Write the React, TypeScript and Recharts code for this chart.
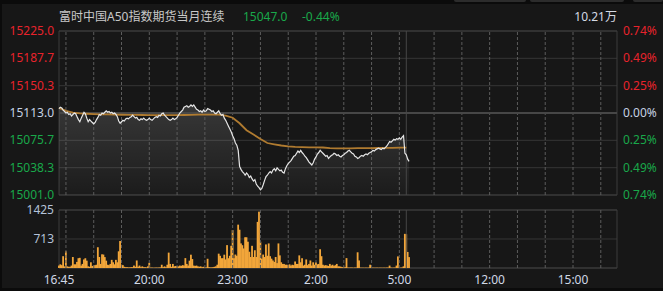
import React from "react";
import {
  ComposedChart,
  Area,
  Line,
  Bar,
  XAxis,
  YAxis,
  CartesianGrid,
  ReferenceLine,
  ReferenceArea,
} from "recharts";

// one point every 3 minutes from 16:45 (minute 0)
const STEP = 3;
const PREV_CLOSE = 15113.0;

const prices = [
  15119, 15121, 15120, 15117, 15115, 15113, 15114, 15111, 15112, 15109,
  15111, 15113, 15112, 15108, 15104, 15101, 15106, 15110, 15114, 15112,
  15106, 15101, 15104, 15102, 15100, 15098, 15100, 15104, 15107, 15111,
  15110, 15113, 15112, 15114, 15116, 15114, 15115, 15113, 15114, 15112,
  15113, 15111, 15108, 15102, 15099, 15101, 15103, 15102, 15105, 15106,
  15105, 15107, 15108, 15110, 15108, 15106, 15107, 15104, 15103, 15105,
  15104, 15106, 15104, 15103, 15104, 15106, 15104, 15103, 15105, 15107,
  15108, 15107, 15110, 15109, 15112, 15113, 15110, 15108, 15106, 15104,
  15103, 15104, 15106, 15104, 15105, 15107, 15110, 15113, 15115, 15117,
  15121, 15122, 15123, 15121, 15122, 15124, 15122, 15124, 15121, 15118,
  15117, 15115, 15116, 15114, 15117, 15115, 15116, 15119, 15118, 15117,
  15115, 15116, 15113, 15112, 15114, 15116, 15112, 15110, 15111, 15106,
  15103, 15099, 15095, 15091, 15087, 15082, 15078, 15072, 15069, 15062,
  15040, 15036, 15033, 15031, 15028, 15031, 15029, 15025, 15027, 15023,
  15020, 15022, 15016, 15013, 15011, 15008, 15010, 15015, 15021, 15026,
  15028, 15031, 15033, 15031, 15035, 15037, 15034, 15038, 15036, 15034,
  15035, 15032, 15031, 15037, 15041, 15044, 15046, 15048, 15051, 15054,
  15055, 15058, 15061, 15059, 15062, 15059, 15057, 15054, 15052, 15049,
  15046, 15044, 15042, 15045, 15050, 15053, 15057, 15059, 15062, 15060,
  15058, 15056, 15054, 15055, 15051, 15053, 15055, 15056, 15058, 15057,
  15055, 15056, 15054, 15053, 15055, 15056, 15058, 15059, 15061, 15062,
  15060, 15058, 15057, 15054, 15053, 15051, 15052, 15054, 15055, 15054,
  15056, 15057, 15056, 15058, 15059, 15060, 15062, 15061, 15063, 15064,
  15065, 15064, 15063, 15065, 15064, 15066, 15068, 15071, 15074, 15073,
  15075, 15077, 15076, 15078, 15077, 15079, 15077, 15080, 15082, 15058,
  15056, 15050, 15047,
];

const volumes = [
  60, 90, 70, 290, 40, 410, 40, 30, 30, 60,
  270, 90, 90, 150, 240, 250, 60, 100, 210, 240,
  180, 40, 30, 140, 50, 60, 70, 80, 510, 270,
  100, 336, 330, 268, 180, 80, 70, 100, 200, 140,
  90, 200, 140, 410, 663, 80, 70, 30, 20, 20,
  15, 15, 20, 20, 60, 30, 185, 30, 60, 20,
  40, 20, 20, 15, 40, 126, 10, 10, 8, 8,
  10, 10, 10, 15, 80, 20, 40, 20, 80, 378,
  100, 30, 100, 40, 50, 40, 40, 60, 50, 70,
  60, 243, 100, 60, 180, 327, 220, 60, 50, 60,
  40, 30, 40, 20, 30, 15, 15, 227, 20, 15,
  15, 20, 30, 40, 80, 352, 300, 240, 240, 327,
  210, 562, 240, 300, 545, 931, 240, 330, 300, 1065,
  940, 604, 560, 480, 755, 755, 646, 400, 270, 545,
  270, 436, 270, 1133, 1384, 646, 230, 330, 270, 579,
  300, 604, 290, 230, 185, 150, 270, 120, 604, 310,
  140, 100, 100, 80, 80, 70, 90, 60, 80, 70,
  160, 100, 100, 310, 140, 240, 60, 80, 210, 70,
  100, 185, 60, 140, 80, 140, 90, 100, 461, 290,
  80, 60, 70, 60, 50, 100, 60, 80, 50, 70,
  100, 40, 40, 30, 20, 30, 20, 243, 10, 10,
  12, 10, 8, 10, 10, 386, 185, 10, 8, 8,
  8, 8, 8, 10, 80, 8, 8, 8, 8, 8,
  8, 8, 8, 8, 8, 8, 10, 10, 60, 10,
  8, 10, 10, 60, 285, 10, 10, 12, 40, 839,
  830, 394, 268,
];

// average price, one value every 15 minutes
const AVG_EVERY = 15;
const avgPrices = [
  15120, 15116, 15113.5, 15112.5, 15112, 15111.5, 15111.2, 15111, 15110.8, 15110.6,
  15110.5, 15110.4, 15110.3, 15110.2, 15110.2, 15110.2, 15110.2, 15110.2, 15110.3, 15110.5,
  15110.7, 15110.8, 15110.9, 15110.8, 15109.5, 15106.5, 15099, 15089.5, 15083.5, 15077.5,
  15072, 15070.2, 15068.6, 15067.5, 15066.8, 15066.4, 15066.1, 15066, 15065.9, 15064.9,
  15064.8, 15064.8, 15064.8, 15064.9, 15065, 15065.1, 15065.2, 15065.3, 15065.5, 15065.7,
  15065.8,
];

const priceTicks = [15001.0, 15038.3, 15075.7, 15113.0, 15150.3, 15187.7, 15225.0];
const pctLabels = ["0.74%", "0.49%", "0.25%", "0.00%", "0.25%", "0.49%", "0.74%"];
const volTicks = [713, 1425];
const timeTicks = [0, 195, 375, 555, 735, 930, 1110];
const timeLabels = ["16:45", "20:00", "23:00", "2:00", "5:00", "12:00", "15:00"];
const hourLines = [15, 75, 135, 195, 255, 315, 375, 435, 495, 555, 615, 675, 735, 810, 870, 930, 990, 1050, 1110, 1170];
const SESSION_BREAK = 750;
const X_MAX = 1205;

const rows = volumes.map((v, i) => {
  const minute = i * STEP;
  return {
    minute,
    price: prices[i] ?? null,
    vol: v,
    avg: minute % AVG_EVERY === 0 ? avgPrices[minute / AVG_EVERY] ?? null : null,
  };
});

const RED = "#e8232c";
const GREEN = "#19a84a";
const NEUTRAL = "#c6d2e4";
const FONT = '"Noto Sans", "Noto Sans CJK SC", sans-serif';

const tickColor = (v: number) => (v > PREV_CLOSE + 0.01 ? RED : v < PREV_CLOSE - 0.01 ? GREEN : NEUTRAL);

const PriceTick = (props: any) => {
  const { x, y, payload } = props;
  return (
    <text x={x} y={y} dy={4} textAnchor="end" fill={tickColor(payload.value)} fontSize={12} fontFamily={FONT}>
      {payload.value.toFixed(1)}
    </text>
  );
};

const PctTick = (props: any) => {
  const { x, y, payload, index } = props;
  return (
    <text x={x} y={y} dy={4} textAnchor="start" fill={tickColor(payload.value)} fontSize={12} fontFamily={FONT}>
      {pctLabels[index]}
    </text>
  );
};

// volume bars: keep them ~1.8px wide so neighbours touch like the 1-minute bars
const VolBar = (props: any) => {
  const { x, y, width, height } = props;
  if (!height || height <= 0) return null;
  const w = 1.8;
  return <rect x={x + width / 2 - w / 2} y={y} width={w} height={height} fill="#f2a63a" />;
};

const gridColor = "#363636";
const dashColor = "#5c5c5c";
const frameColor = "#3c3c3c";

const hourGuides = () =>
  hourLines.map((m) => <ReferenceLine key={"h" + m} x={m} stroke={dashColor} strokeDasharray="3 2" />);

export default function App() {
  return (
    <div style={{ position: "absolute", left: 0, top: 0, width: 663, height: 291, background: "#0b0b0b", fontFamily: FONT }}>
      <div style={{ position: "absolute", left: 2, top: 4, width: 661, height: 284, background: "#171717" }} />
      <div style={{ position: "absolute", left: 454, top: 0, width: 72, height: 2, background: "#2c2c2c", borderRadius: "0 0 4px 4px" }} />
      <div style={{ position: "absolute", left: 530, top: 0, width: 94, height: 2, background: "#2c2c2c", borderRadius: "0 0 4px 4px" }} />
      <div style={{ position: "absolute", left: 633, top: 0, width: 30, height: 2, background: "#2c2c2c", borderRadius: "0 0 4px 4px" }} />

      <div style={{ position: "absolute", left: 59, top: 9, fontSize: 12, lineHeight: "16px", color: "#c8c8c8", whiteSpace: "nowrap" }}>
        富时中国A50指数期货当月连续
      </div>
      <div style={{ position: "absolute", left: 243, top: 9, fontSize: 12, lineHeight: "16px", color: GREEN }}>15047.0</div>
      <div style={{ position: "absolute", left: 302, top: 9, fontSize: 12, lineHeight: "16px", color: GREEN }}>-0.44%</div>
      <div style={{ position: "absolute", right: 46, top: 9, fontSize: 12, lineHeight: "16px", color: "#d4dae4" }}>10.21万</div>

      <div style={{ position: "absolute", left: 0, top: 0 }}>
        <ComposedChart width={663} height={205} data={rows} margin={{ top: 31, right: 0, bottom: 10, left: 0 }}>
          <defs>
            <linearGradient id="priceFill" x1="0" y1="0" x2="0" y2="1">
              <stop offset="0%" stopColor="#ffffff" stopOpacity={0.14} />
              <stop offset="100%" stopColor="#ffffff" stopOpacity={0.02} />
            </linearGradient>
          </defs>
          <CartesianGrid vertical={false} stroke={gridColor} />
          <XAxis type="number" dataKey="minute" domain={[0, X_MAX]} hide />
          <YAxis
            domain={[15001, 15225]}
            ticks={priceTicks}
            interval={0}
            width={59}
            axisLine={false}
            tickLine={false}
            tickSize={0}
            tickMargin={5}
            tick={<PriceTick />}
          />
          <YAxis
            yAxisId="pct"
            orientation="right"
            domain={[15001, 15225]}
            ticks={priceTicks}
            interval={0}
            width={46}
            axisLine={false}
            tickLine={false}
            tickSize={0}
            tickMargin={6}
            tick={<PctTick />}
          />
          {hourGuides()}
          <ReferenceLine x={SESSION_BREAK} stroke="#474747" />
          <ReferenceLine y={PREV_CLOSE} stroke="#474747" strokeWidth={2} />
          <ReferenceArea x1={0} x2={X_MAX} y1={15001} y2={15225} fill="none" stroke={frameColor} />
          <Area
            dataKey="price"
            type="linear"
            stroke="none"
            fill="url(#priceFill)"
            fillOpacity={1}
            isAnimationActive={false}
          />
          <Line
            yAxisId="pct"
            dataKey="price"
            stroke="none"
            dot={false}
            activeDot={false}
            legendType="none"
            isAnimationActive={false}
          />
          <Line
            dataKey="avg"
            type="linear"
            stroke="#b07b30"
            strokeWidth={1.8}
            dot={false}
            connectNulls
            isAnimationActive={false}
          />
          <Line
            dataKey="price"
            type="linear"
            stroke="#e6e6e6"
            strokeWidth={1.2}
            dot={false}
            isAnimationActive={false}
          />
        </ComposedChart>
      </div>

      <div style={{ position: "absolute", left: 0, top: 200 }}>
        <ComposedChart width={663} height={91} data={rows} margin={{ top: 10, right: 46, bottom: 0, left: 0 }}>
          <CartesianGrid vertical={false} stroke={gridColor} />
          <XAxis
            type="number"
            dataKey="minute"
            domain={[0, X_MAX]}
            ticks={timeTicks}
            interval={0}
            height={23}
            axisLine={false}
            tickLine={false}
            tickSize={0}
            tickMargin={7}
            tickFormatter={(v: number) => timeLabels[timeTicks.indexOf(v)]}
            tick={{ fill: "#d0d8e6", fontSize: 12, fontFamily: FONT }}
          />
          <YAxis
            domain={[0, 1425]}
            ticks={volTicks}
            interval={0}
            width={59}
            axisLine={false}
            tickLine={false}
            tickSize={0}
            tickMargin={5}
            tick={{ fill: "#b4c2d8", fontSize: 12, fontFamily: FONT }}
          />
          {hourGuides()}
          <ReferenceLine x={SESSION_BREAK} stroke="#474747" />
          <ReferenceArea x1={0} x2={X_MAX} y1={0} y2={1425} fill="none" stroke={frameColor} />
          <Bar dataKey="vol" fill="#f2a63a" shape={<VolBar />} isAnimationActive={false} />
        </ComposedChart>
      </div>
    </div>
  );
}
